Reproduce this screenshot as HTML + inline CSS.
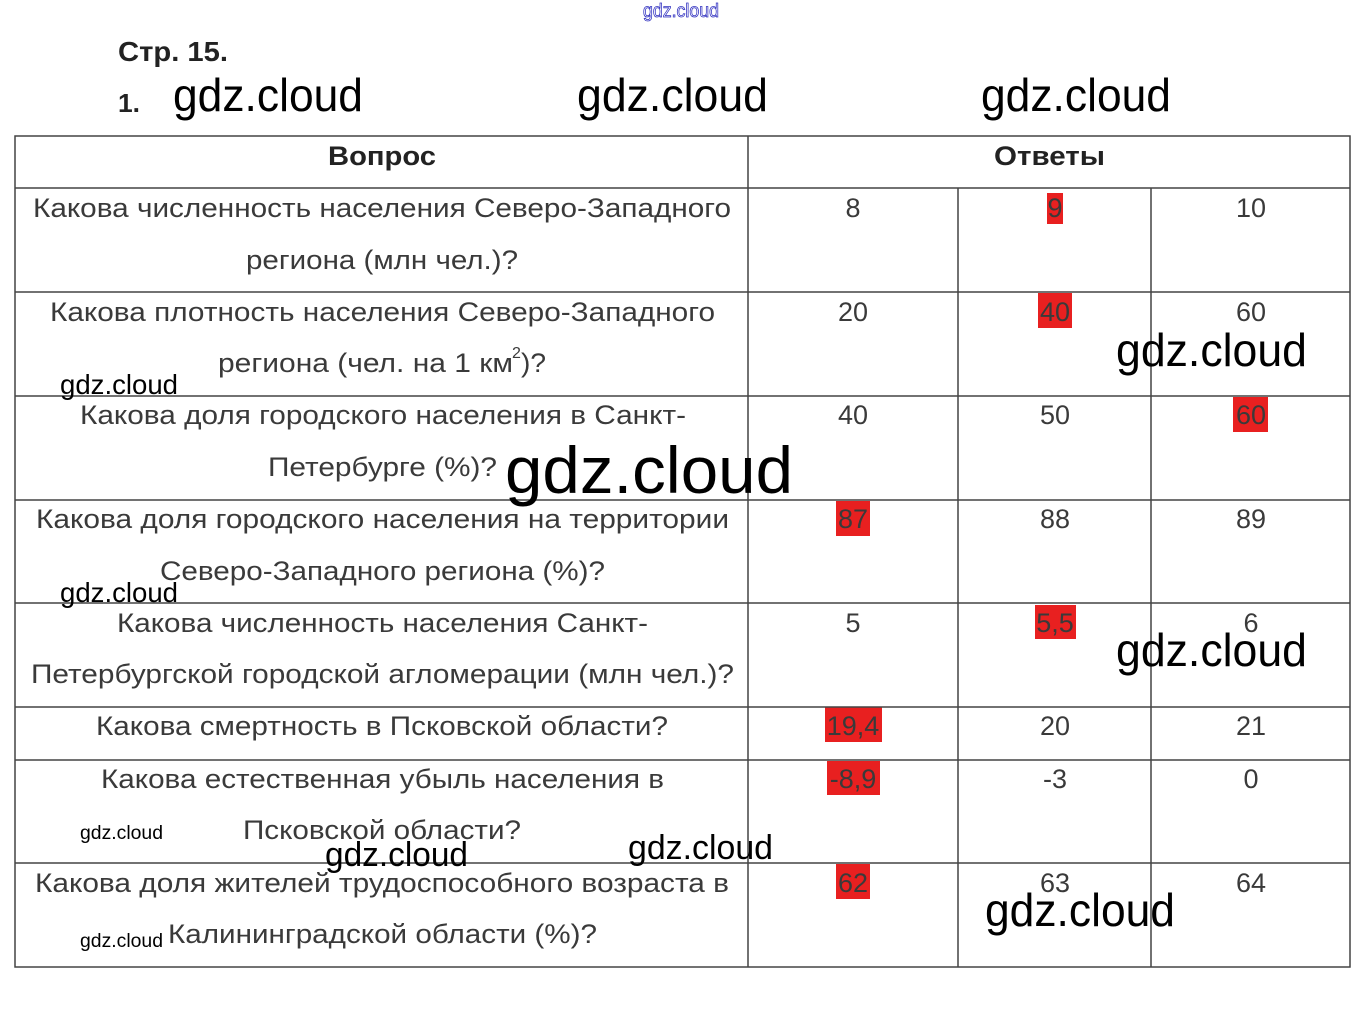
<!DOCTYPE html>
<html><head><meta charset="utf-8"><style>
html,body{margin:0;padding:0;background:#fff;}
svg{display:block;}
.q{font-family:"Liberation Sans",sans-serif;font-size:27px;fill:#3a3a3a;}
.w{font-family:"Liberation Sans",sans-serif;fill:#000;}
</style></head><body>
<svg width="1363" height="1025" viewBox="0 0 1363 1025" xmlns="http://www.w3.org/2000/svg">
<rect width="1363" height="1025" fill="#fff"/>
<text x="643" y="17" textLength="76" lengthAdjust="spacingAndGlyphs" font-family="Liberation Sans" font-size="19" fill="#fff" stroke="#3030c0" stroke-width="0.8">gdz.cloud</text>
<text x="118" y="61" textLength="110" lengthAdjust="spacingAndGlyphs" font-family="Liberation Sans" font-weight="bold" font-size="28" fill="#222">Стр. 15.</text>
<text x="118" y="112" textLength="22" lengthAdjust="spacingAndGlyphs" font-family="Liberation Sans" font-weight="bold" font-size="26" fill="#222">1.</text>
<g fill="#e82020">
<rect x="1047" y="193" width="16" height="31"/>
<rect x="1038" y="293" width="34" height="35"/>
<rect x="1233" y="397" width="35" height="35"/>
<rect x="836" y="501" width="34" height="35"/>
<rect x="1035" y="605" width="41" height="34"/>
<rect x="825" y="707" width="57" height="35"/>
<rect x="827" y="761" width="53" height="34"/>
<rect x="836" y="864" width="34" height="35"/>
</g>
<g stroke="#444" stroke-width="1.5" fill="none">
<rect x="15" y="136" width="1335" height="831"/>
<line x1="15" y1="188" x2="1350" y2="188"/>
<line x1="15" y1="292" x2="1350" y2="292"/>
<line x1="15" y1="396" x2="1350" y2="396"/>
<line x1="15" y1="500" x2="1350" y2="500"/>
<line x1="15" y1="603" x2="1350" y2="603"/>
<line x1="15" y1="707" x2="1350" y2="707"/>
<line x1="15" y1="760" x2="1350" y2="760"/>
<line x1="15" y1="863" x2="1350" y2="863"/>
<line x1="748" y1="136" x2="748" y2="967"/>
<line x1="958" y1="188" x2="958" y2="967"/>
<line x1="1151" y1="188" x2="1151" y2="967"/>
</g>
<g font-family="Liberation Sans" font-weight="bold" font-size="27" fill="#222">
<text x="328" y="165" textLength="108" lengthAdjust="spacingAndGlyphs">Вопрос</text>
<text x="994" y="165" textLength="111" lengthAdjust="spacingAndGlyphs">Ответы</text>
</g>
<g class="q" lengthAdjust="spacingAndGlyphs">
<text x="33" y="217" textLength="698" lengthAdjust="spacingAndGlyphs">Какова численность населения Северо-Западного</text>
<text x="246" y="269" textLength="272" lengthAdjust="spacingAndGlyphs">региона (млн чел.)?</text>
<text x="50" y="321" textLength="665" lengthAdjust="spacingAndGlyphs">Какова плотность населения Северо-Западного</text>
<text x="218" y="372" textLength="295" lengthAdjust="spacingAndGlyphs">региона (чел. на 1 км</text>
<text x="512" y="358" font-size="16">2</text>
<text x="521" y="372" textLength="25" lengthAdjust="spacingAndGlyphs">)?</text>
<text x="80" y="424" textLength="606" lengthAdjust="spacingAndGlyphs">Какова доля городского населения в Санкт-</text>
<text x="268" y="476" textLength="229" lengthAdjust="spacingAndGlyphs">Петербурге (%)?</text>
<text x="36" y="528" textLength="693" lengthAdjust="spacingAndGlyphs">Какова доля городского населения на территории</text>
<text x="160" y="580" textLength="445" lengthAdjust="spacingAndGlyphs">Северо-Западного региона (%)?</text>
<text x="117" y="632" textLength="531" lengthAdjust="spacingAndGlyphs">Какова численность населения Санкт-</text>
<text x="31" y="683" textLength="703" lengthAdjust="spacingAndGlyphs">Петербургской городской агломерации (млн чел.)?</text>
<text x="96" y="735" textLength="572" lengthAdjust="spacingAndGlyphs">Какова смертность в Псковской области?</text>
<text x="101" y="788" textLength="563" lengthAdjust="spacingAndGlyphs">Какова естественная убыль населения в</text>
<text x="243" y="839" textLength="278" lengthAdjust="spacingAndGlyphs">Псковской области?</text>
<text x="35" y="892" textLength="694" lengthAdjust="spacingAndGlyphs">Какова доля жителей трудоспособного возраста в</text>
<text x="168" y="943" textLength="429" lengthAdjust="spacingAndGlyphs">Калининградской области (%)?</text>
</g>
<g class="q" text-anchor="middle">
<text x="853" y="217">8</text><text x="1055" y="217">9</text><text x="1251" y="217">10</text>
<text x="853" y="321">20</text><text x="1055" y="321">40</text><text x="1251" y="321">60</text>
<text x="853" y="424">40</text><text x="1055" y="424">50</text><text x="1251" y="424">60</text>
<text x="853" y="528">87</text><text x="1055" y="528">88</text><text x="1251" y="528">89</text>
<text x="853" y="632">5</text><text x="1055" y="632">5,5</text><text x="1251" y="632">6</text>
<text x="853" y="735">19,4</text><text x="1055" y="735">20</text><text x="1251" y="735">21</text>
<text x="853" y="788">-8,9</text><text x="1055" y="788">-3</text><text x="1251" y="788">0</text>
<text x="853" y="892">62</text><text x="1055" y="892">63</text><text x="1251" y="892">64</text>
</g>
<g class="w">
<text x="173" y="111" font-size="46" textLength="190" lengthAdjust="spacingAndGlyphs">gdz.cloud</text>
<text x="577" y="111" font-size="46" textLength="191" lengthAdjust="spacingAndGlyphs">gdz.cloud</text>
<text x="981" y="111" font-size="46" textLength="190" lengthAdjust="spacingAndGlyphs">gdz.cloud</text>
<text x="1116" y="366" font-size="46" textLength="191" lengthAdjust="spacingAndGlyphs">gdz.cloud</text>
<text x="60" y="394" font-size="28" textLength="118" lengthAdjust="spacingAndGlyphs">gdz.cloud</text>
<text x="505" y="493" font-size="66" textLength="288" lengthAdjust="spacingAndGlyphs">gdz.cloud</text>
<text x="60" y="602" font-size="28" textLength="118" lengthAdjust="spacingAndGlyphs">gdz.cloud</text>
<text x="1116" y="666" font-size="46" textLength="191" lengthAdjust="spacingAndGlyphs">gdz.cloud</text>
<text x="80" y="839" font-size="19" textLength="83" lengthAdjust="spacingAndGlyphs">gdz.cloud</text>
<text x="325" y="866" font-size="34" textLength="143" lengthAdjust="spacingAndGlyphs">gdz.cloud</text>
<text x="628" y="859" font-size="34" textLength="145" lengthAdjust="spacingAndGlyphs">gdz.cloud</text>
<text x="985" y="926" font-size="46" textLength="190" lengthAdjust="spacingAndGlyphs">gdz.cloud</text>
<text x="80" y="947" font-size="19" textLength="83" lengthAdjust="spacingAndGlyphs">gdz.cloud</text>
</g>
</svg>
</body></html>
